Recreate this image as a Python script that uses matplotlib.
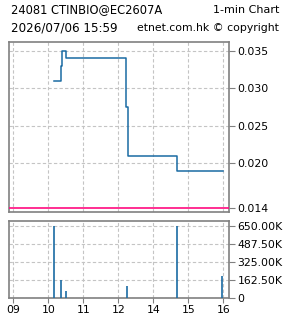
import matplotlib
matplotlib.use('Agg')
import matplotlib.pyplot as plt
import numpy as np

# ------------------------- données -------------------------
price_times = ['10:09', '10:21', '10:23', '10:30', '13:14', '13:16', '14:41', '15:59']
prices = [0.031, 0.033, 0.035, 0.034, 0.0275, 0.021, 0.019, 0.019]

vol_times = ['10:09', '10:22', '10:31', '13:15', '14:41', '15:58']
volumes = [650000, 156000, 59000, 103000, 650000, 198000]

ref_price = 0.014
price_ticks = [0.035, 0.030, 0.025, 0.020, 0.014]
vol_ticks = [0, 162500, 325000, 487500, 650000]
hour_labels = ['09', '10', '11', '12', '14', '15', '16']

title_left = '24081 CTINBIO@EC2607A'
title_right = '1-min Chart'
date_text = '2026/07/06 15:59'
copy_text = 'etnet.com.hk \u00a9 copyright'


def to_pos(t):
    # pause de midi compressée : 13:00 tombe sur la graduation "12"
    h, m = [int(v) for v in t.split(':')]
    if h >= 13:
        h -= 1
    return (h - 9) + m / 60.0


px = [to_pos(t) for t in price_times]
vx = [to_pos(t) for t in vol_times]

blue = '#1a6ba3'
pink = '#ff0a7f'
border = '#808080'
grid_c = '#c4c4c4'
tick_font = ['Liberation Sans Narrow', 'DejaVu Sans']

fig = plt.figure(figsize=(2.85, 3.18), dpi=100)
fig.patch.set_facecolor('white')

ax1 = fig.add_axes([8.5 / 285, 1 - 212.3 / 318, 220.8 / 285, 170.3 / 318])
ax2 = fig.add_axes([8.5 / 285, 1 - 298 / 318, 220.8 / 285, 77 / 318])

xlim = (-0.137, 6.171)

# ------------------------- prix -------------------------
ax1.step(px, prices, where='post', color=blue, lw=1.1, zorder=3)
ax1.axhline(ref_price, color=pink, lw=1.2, zorder=3)
ax1.set_xlim(*xlim)
ax1.set_ylim(0.01347, 0.03616)
ax1.set_yticks(price_ticks)
ax1.set_yticklabels(['%.3f' % v for v in price_ticks])
ax1.set_xticks(range(len(hour_labels)))
ax1.set_xticklabels([])
ax1.tick_params(axis='x', length=0)

# ------------------------- volume -------------------------
ax2.vlines(vx, 0, volumes, color=blue, lw=1.2, zorder=3)
ax2.set_xlim(*xlim)
ax2.set_ylim(-3000, 692000)
ax2.set_yticks(vol_ticks)
ax2.set_yticklabels(['0' if v == 0 else '%.2fK' % (v / 1000) for v in vol_ticks])
ax2.set_xticks(range(len(hour_labels)))
ax2.set_xticklabels(hour_labels)

for ax in (ax1, ax2):
    ax.yaxis.tick_right()
    ax.grid(True, color=grid_c, linestyle=(0, (3, 2)), lw=0.8)
    for s in ax.spines.values():
        s.set_color(border)
        s.set_linewidth(1.2)
    ax.tick_params(axis='y', length=4, width=0.8, color=border, pad=2, labelsize=7.8)
    ax.tick_params(axis='x', width=0.8, color=border, pad=1.5, labelsize=7.8)
    for lab in ax.get_yticklabels() + ax.get_xticklabels():
        lab.set_family(tick_font)

# pas de grille sur la ligne de référence
ax1.get_ygridlines()[-1].set_visible(False)

# ------------------------- en-tête -------------------------
fig.text(11 / 285, 1 - 10 / 318, title_left, fontsize=8.3, va='center', ha='left')
fig.text(279 / 285, 1 - 10 / 318, title_right, fontsize=8.0, va='center', ha='right')
fig.text(11 / 285, 1 - 28 / 318, date_text, fontsize=8.6, va='center', ha='left')
fig.text(279 / 285, 1 - 28 / 318, copy_text, fontsize=7.8, va='center', ha='right')

fig.savefig('out.png', dpi=100)
